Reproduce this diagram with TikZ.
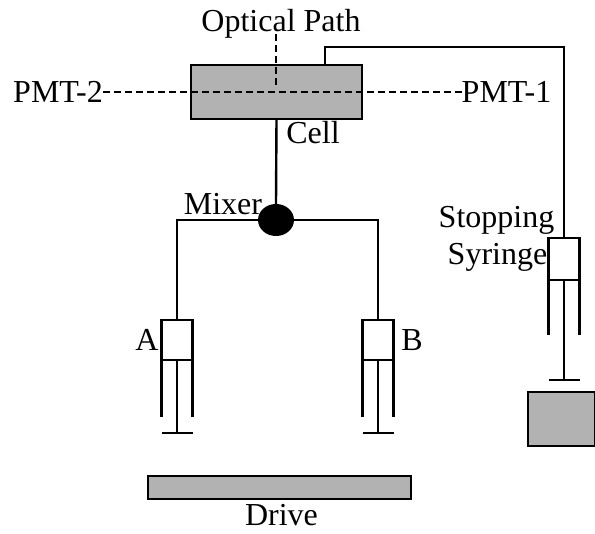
\documentclass[tikz,border=0pt]{standalone}
\usepackage{fontspec}
\setmainfont{Liberation Serif}
\usepackage{tikz}
\usetikzlibrary{shapes.geometric}

\begin{document}
\begin{tikzpicture}[x=1pt,y=-1pt]
	\tikzstyle{label}=[inner sep=0pt,anchor=base,font=\fontsize{32}{36}\selectfont]
	\tikzstyle{tube}=[line width=2.4pt]
	\tikzstyle{beam}=[line width=2pt,dash pattern=on 7pt off 4pt]
	\tikzstyle{block}=[rectangle,draw,line width=1.8pt,fill=black!30,inner sep=0pt,outer sep=0pt]
	\tikzstyle{barrel}=[rectangle,draw,line width=2.4pt,fill=white,inner sep=0pt,outer sep=0pt,minimum width=31pt]
	\tikzstyle{bar}=[rectangle,fill=black,inner sep=0pt,outer sep=0pt,minimum width=31pt,minimum height=2.6pt]
	\useasboundingbox (0,0) rectangle (595,534);
	\node (cell)  at (276.5,92) [block,minimum width=171pt,minimum height=54pt] {};
	\node (drive) at (279.5,487.5) [block,minimum width=263pt,minimum height=23pt] {};
	\node (stop)  at (561.5,419) [block,minimum width=67pt,minimum height=54pt] {};
	\node (mixer) at (276,220) [ellipse,fill=black,inner sep=0pt,minimum width=36pt,minimum height=32pt] {};
	\node (syrA) at (177,340) [barrel,minimum height=40pt] {};
	\node (syrB) at (378,340) [barrel,minimum height=40pt] {};
	\node (syrC) at (564,259) [barrel,minimum height=42pt] {};
	\node (barA) at (177,433) [bar] {};
	\node (barB) at (378,433) [bar] {};
	\node (barC) at (564,380) [bar] {};
	\node (optical) at (281,32)  [label] {Optical Path};
	\node (pmtone)  at (506.5,103) [label] {PMT-1};
	\node (pmttwo)  at (58,103)  [label] {PMT-2};
	\node (celltxt) at (313,144) [label] {Cell};
	\node (mixtxt)  at (223,215) [label] {Mixer};
	\node (atxt)    at (147,351) [label] {A};
	\node (btxt)    at (412,351) [label] {B};
	\node (stoptxt) at (496.5,228) [label] {Stopping};
	\node (syrtxt)  at (497.5,265) [label] {Syringe};
	\node (drvtxt)  at (281.5,526) [label] {Drive};
	\coordinate (beamend) at (276,88);
	\coordinate (opticaltop) at (276,34);
	\coordinate (corner1) at (325,47);
	\coordinate (corner2) at (564,47);
	\coordinate (leftA) at (177,220);
	\coordinate (leftB) at (378,220);
	\coordinate (wallA1) at (161.5,417);
	\coordinate (wallA2) at (192.5,417);
	\coordinate (wallB1) at (362.5,417);
	\coordinate (wallB2) at (393.5,417);
	\coordinate (wallC1) at (548.5,335);
	\coordinate (wallC2) at (579.5,335);
	\draw [tube] (cell.south) -- (mixer.north);
	\draw [tube] (mixer.west) -- (leftA) -- (syrA.north);
	\draw [tube] (mixer.east) -- (leftB) -- (syrB.north);
	\draw [tube] (cell.north -| corner1) -- (corner1) -- (corner2) -- (syrC.north);
	\draw [tube] (syrA.south) -- (barA.north);
	\draw [tube] (syrB.south) -- (barB.north);
	\draw [tube] (syrC.south) -- (barC.north);
	\draw [tube] (syrA.south west) -- (wallA1);
	\draw [tube] (syrA.south east) -- (wallA2);
	\draw [tube] (syrB.south west) -- (wallB1);
	\draw [tube] (syrB.south east) -- (wallB2);
	\draw [tube] (syrC.south west) -- (wallC1);
	\draw [tube] (syrC.south east) -- (wallC2);
	\draw [beam] (pmttwo.east |- cell) -- (pmtone.west |- cell);
	\draw [beam] (opticaltop) -- (beamend);
\end{tikzpicture}
\end{document}
